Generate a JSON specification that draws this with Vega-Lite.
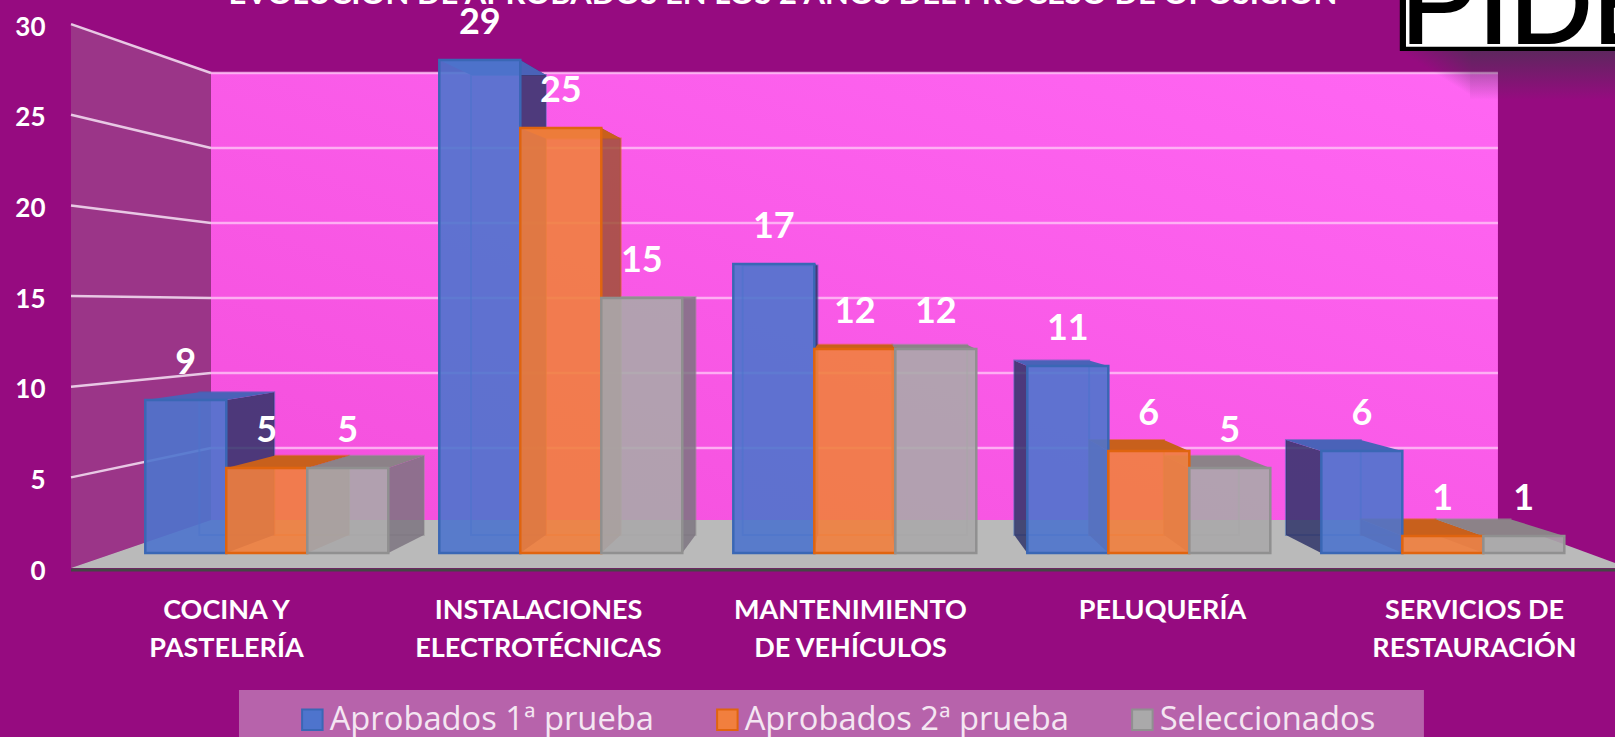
{"$schema":"https://vega.github.io/schema/vega-lite/v6.json","width":1615,"height":737,"autosize":"none","padding":0,"background":"#960b80","config":{"view":{"stroke":null}},
"datasets":{"bars":[
{"category":"COCINA Y PASTELERÍA","series":"Aprobados 1ª prueba","value":9},{"category":"COCINA Y PASTELERÍA","series":"Aprobados 2ª prueba","value":5},{"category":"COCINA Y PASTELERÍA","series":"Seleccionados","value":5},
{"category":"INSTALACIONES ELECTROTÉCNICAS","series":"Aprobados 1ª prueba","value":29},{"category":"INSTALACIONES ELECTROTÉCNICAS","series":"Aprobados 2ª prueba","value":25},{"category":"INSTALACIONES ELECTROTÉCNICAS","series":"Seleccionados","value":15},
{"category":"MANTENIMIENTO DE VEHÍCULOS","series":"Aprobados 1ª prueba","value":17},{"category":"MANTENIMIENTO DE VEHÍCULOS","series":"Aprobados 2ª prueba","value":12},{"category":"MANTENIMIENTO DE VEHÍCULOS","series":"Seleccionados","value":12},
{"category":"PELUQUERÍA","series":"Aprobados 1ª prueba","value":11},{"category":"PELUQUERÍA","series":"Aprobados 2ª prueba","value":6},{"category":"PELUQUERÍA","series":"Seleccionados","value":5},
{"category":"SERVICIOS DE RESTAURACIÓN","series":"Aprobados 1ª prueba","value":6},{"category":"SERVICIOS DE RESTAURACIÓN","series":"Aprobados 2ª prueba","value":1},{"category":"SERVICIOS DE RESTAURACIÓN","series":"Seleccionados","value":1}],
"ticks":[{"v":5},{"v":10},{"v":15},{"v":20},{"v":25},{"v":30}]},
"resolve":{"scale":{"x":"independent","y":"independent","fill":"independent","stroke":"independent"}},
"layer":[
{"resolve":{"scale":{"fill":"independent","stroke":"independent"}},
"layer":[
{"data":{"values":[{}]},"mark":{"type":"rect","fill":{"gradient":"linear","x1":0,"y1":1,"x2":1,"y2":0,"stops":[{"offset":0,"color":"#f44fdc"},{"offset":1,"color":"#ff66f3"}]}},"encoding":{"x":{"datum":-0.1898,"type":"quantitative","scale":{"domain":[-0.9075,4.586],"range":[0,1615],"nice":false,"zero":false},"axis":null},"x2":{"datum":4.1878},"y":{"datum":28.235,"type":"quantitative","scale":{"domain":[-10.82,32.53],"range":[737,0],"nice":false,"zero":false},"axis":null},"y2":{"datum":1.941}}},
{"data":{"values":[{"x":-0.666,"top":31.12,"bottom":-0.882},{"x":-0.1898,"top":28.235,"bottom":1.941}]},"mark":{"type":"area","orient":"vertical","fill":"#9b3588"},"encoding":{"x":{"field":"x","type":"quantitative"},"y":{"field":"top","type":"quantitative"},"y2":{"field":"bottom"}}},
{"data":{"values":[{"y":1.941,"xl":-0.1898,"xr":4.1878},{"y":-0.882,"xl":-0.666,"xr":4.634}]},"mark":{"type":"area","orient":"horizontal","fill":"#bababa"},"encoding":{"y":{"field":"y","type":"quantitative"},"x":{"field":"xl","type":"quantitative"},"x2":{"field":"xr"}}},
{"data":{"values":[{}]},"mark":{"type":"rule","stroke":"#454545","strokeWidth":3},"encoding":{"x":{"datum":-0.666,"type":"quantitative"},"x2":{"datum":4.586},"y":{"datum":-1.0,"type":"quantitative"}}},
{"data":{"name":"ticks"},"transform":[{"calculate":"1.765+0.8824*datum.v","as":"yb"}],"mark":{"type":"rule","stroke":"#ffc4f6","strokeWidth":2.5,"opacity":0.8},"encoding":{"x":{"datum":-0.1898,"type":"quantitative"},"x2":{"datum":4.1878},"y":{"field":"yb","type":"quantitative"}}},
{"data":{"name":"ticks"},"transform":[{"calculate":"1.765+0.8824*datum.v","as":"yb"},{"calculate":"-0.882+1.0665*datum.v","as":"yl"}],"mark":{"type":"rule","stroke":"#e8c8e4","strokeWidth":2.5},"encoding":{"x":{"datum":-0.666,"type":"quantitative"},"x2":{"datum":-0.1898},"y":{"field":"yl","type":"quantitative"},"y2":{"field":"yb"}}},
{"data":{"values":[{}]},"mark":{"type":"rect","fill":{"gradient":"linear","x1":0,"y1":0,"x2":0,"y2":1,"stops":[{"offset":0,"color":"rgba(70,50,80,0.7)"},{"offset":1,"color":"rgba(70,50,80,0)"}]}},"encoding":{"x":{"datum":4.093,"type":"quantitative"},"x2":{"datum":4.586},"y":{"datum":29.53,"type":"quantitative"},"y2":{"datum":26.65}}},
{"data":{"values":[{}]},"mark":{"type":"rect","fill":{"gradient":"linear","x1":1,"y1":0,"x2":0.2,"y2":0.9,"stops":[{"offset":0,"color":"rgba(70,50,80,0.7)"},{"offset":0.56,"color":"rgba(70,50,80,0)"},{"offset":1,"color":"rgba(70,50,80,0)"}]}},"encoding":{"x":{"datum":3.855,"type":"quantitative"},"x2":{"datum":4.093},"y":{"datum":29.53,"type":"quantitative"},"y2":{"datum":26.65}}},
{"data":{"values":[{}]},"mark":{"type":"rect","fill":"#b763ab"},"encoding":{"x":{"datum":-0.0946,"type":"quantitative"},"x2":{"datum":3.936},"y":{"datum":-8.06,"type":"quantitative"},"y2":{"datum":-10.82}}},
{"data":{"name":"bars"},"transform":[
{"calculate":"indexof(['COCINA Y PASTELERÍA','INSTALACIONES ELECTROTÉCNICAS','MANTENIMIENTO DE VEHÍCULOS','PELUQUERÍA','SERVICIOS DE RESTAURACIÓN'],datum.category)","as":"k"},
{"calculate":"indexof(['Aprobados 1ª prueba','Aprobados 2ª prueba','Seleccionados'],datum.series)","as":"s"},
{"calculate":"datum.k+(datum.s-1)*0.2755-0.1378","as":"x0"},{"calculate":"datum.x0+0.2755","as":"x1"},
{"calculate":"2.007+0.924*(datum.x0-2.007)","as":"bx0"},{"calculate":"2.007+0.924*(datum.x1-2.007)","as":"bx1"},
{"calculate":"15.8+0.933*(datum.value-15.8)","as":"by"},{"calculate":"1.06","as":"bb"}],
"mark":{"type":"rect","fillOpacity":0,"strokeWidth":2,"strokeOpacity":0.55},
"encoding":{"x":{"field":"bx0","type":"quantitative"},"x2":{"field":"bx1"},"y":{"field":"by","type":"quantitative"},"y2":{"field":"bb"},
"stroke":{"field":"series","type":"nominal","legend":null,"scale":{"domain":["Aprobados 1ª prueba","Aprobados 2ª prueba","Seleccionados"],"range":["#3a67b5","#e0640f","#909090"]}}}},
{"data":{"name":"bars"},"transform":[
{"calculate":"indexof(['COCINA Y PASTELERÍA','INSTALACIONES ELECTROTÉCNICAS','MANTENIMIENTO DE VEHÍCULOS','PELUQUERÍA','SERVICIOS DE RESTAURACIÓN'],datum.category)","as":"k"},
{"calculate":"indexof(['Aprobados 1ª prueba','Aprobados 2ª prueba','Seleccionados'],datum.series)","as":"s"},
{"calculate":"datum.k+(datum.s-1)*0.2755-0.1378","as":"x0"},{"calculate":"datum.x0+0.2755","as":"x1"},
{"calculate":"datum.x1<2.007?datum.x1:datum.x0","as":"sx"},{"calculate":"2.007+0.924*(datum.sx-2.007)","as":"bx"},
{"calculate":"15.8+0.933*(datum.value-15.8)","as":"by"},{"calculate":"datum.category+datum.series","as":"id"},
{"fold":["sx","bx"],"as":["edge","px"]},
{"calculate":"datum.edge=='sx'?datum.value:datum.by","as":"yt"},{"calculate":"datum.edge=='sx'?0:1.06","as":"yb"}],
"mark":{"type":"area","orient":"vertical","fillOpacity":0.85},
"encoding":{"x":{"field":"px","type":"quantitative"},"y":{"field":"yt","type":"quantitative"},"y2":{"field":"yb"},"detail":{"field":"id"},
"fill":{"field":"series","type":"nominal","legend":null,"scale":{"domain":["Aprobados 1ª prueba","Aprobados 2ª prueba","Seleccionados"],"range":["#2f3468","#a05035","#7d7480"]}}}},
{"data":{"name":"bars"},"transform":[
{"calculate":"indexof(['COCINA Y PASTELERÍA','INSTALACIONES ELECTROTÉCNICAS','MANTENIMIENTO DE VEHÍCULOS','PELUQUERÍA','SERVICIOS DE RESTAURACIÓN'],datum.category)","as":"k"},
{"calculate":"indexof(['Aprobados 1ª prueba','Aprobados 2ª prueba','Seleccionados'],datum.series)","as":"s"},
{"calculate":"datum.k+(datum.s-1)*0.2755-0.1378","as":"x0"},{"calculate":"datum.x0+0.2755","as":"x1"},
{"calculate":"2.007+0.924*(datum.x0-2.007)","as":"bx0"},{"calculate":"2.007+0.924*(datum.x1-2.007)","as":"bx1"},
{"calculate":"15.8+0.933*(datum.value-15.8)","as":"by"},{"calculate":"datum.category+datum.series","as":"id"},
{"calculate":"datum.value","as":"fy"},
{"fold":["fy","by"],"as":["edge","yy"]},
{"calculate":"datum.edge=='fy'?datum.x0:datum.bx0","as":"xa"},{"calculate":"datum.edge=='fy'?datum.x1:datum.bx1","as":"xb"}],
"mark":{"type":"area","orient":"horizontal"},
"encoding":{"y":{"field":"yy","type":"quantitative"},"x":{"field":"xa","type":"quantitative"},"x2":{"field":"xb"},"detail":{"field":"id"},
"fill":{"field":"series","type":"nominal","legend":null,"scale":{"domain":["Aprobados 1ª prueba","Aprobados 2ª prueba","Seleccionados"],"range":["#4a62b8","#c8601c","#8c8288"]}}}},
{"data":{"values":[{}]},"mark":{"type":"rect","fill":"#000000"},"encoding":{"x":{"datum":3.854,"type":"quantitative"},"x2":{"datum":4.586},"y":{"datum":32.53,"type":"quantitative"},"y2":{"datum":29.53}}},
{"data":{"values":[{}]},"mark":{"type":"rect","fill":"#ffffff"},"encoding":{"x":{"datum":3.875,"type":"quantitative"},"x2":{"datum":4.586},"y":{"datum":32.53,"type":"quantitative"},"y2":{"datum":29.78}}},
{"data":{"values":[{}]},"mark":{"type":"text","text":"PIDE","font":"Liberation Sans","fontSize":115,"align":"left","baseline":"alphabetic","fill":"#000000","stroke":"#000000","strokeWidth":2},"encoding":{"x":{"datum":3.858,"type":"quantitative"},"y":{"datum":30.0,"type":"quantitative"}}},
{"data":{"values":[{}]},"mark":{"type":"text","text":"EVOLUCIÓN DE APROBADOS EN LOS 2 AÑOS DEL PROCESO DE OPOSICIÓN","font":"Lato","fontWeight":"bold","fontSize":31,"align":"center","baseline":"alphabetic","fill":"#ffffff"},"encoding":{"x":{"datum":1.756,"type":"quantitative"},"y":{"datum":32.29,"type":"quantitative"}}}
]},
{"data":{"name":"bars"},"layer":[
{"mark":{"type":"bar","fillOpacity":0.9,"strokeWidth":2.5},
"encoding":{"x":{"field":"category","type":"nominal","sort":null,"axis":null,"scale":{"range":[119.8,1589.8],"paddingInner":0.1735,"paddingOuter":0.0867}},"xOffset":{"field":"series","type":"nominal","sort":null,"scale":{"paddingInner":0,"paddingOuter":0}},
"y":{"field":"value","type":"quantitative","axis":null,"scale":{"domain":[0,30],"range":[553,43],"nice":false}},
"fill":{"field":"series","type":"nominal","scale":{"domain":["Aprobados 1ª prueba","Aprobados 2ª prueba","Seleccionados"],"range":["#4e74cd","#f17f3e","#aaa9aa"]},"legend":{"title":null,"orient":"none","legendX":296,"legendY":703,"direction":"horizontal","columns":3,"symbolType":"square","symbolSize":420,"symbolStrokeWidth":2,"labelFont":"Open Sans","labelFontSize":32.7,"labelColor":"#f4e6f2","labelLimit":500,"labelOffset":1,"columnPadding":57}},
"stroke":{"field":"series","type":"nominal","scale":{"domain":["Aprobados 1ª prueba","Aprobados 2ª prueba","Seleccionados"],"range":["#3a67b5","#e0640f","#909090"]},"legend":{"title":null,"orient":"none","legendX":296,"legendY":703,"direction":"horizontal","columns":3,"symbolType":"square","symbolSize":420,"symbolStrokeWidth":2,"labelFont":"Open Sans","labelFontSize":32.7,"labelColor":"#f4e6f2","labelLimit":500,"labelOffset":1,"columnPadding":57}}}},
{"mark":{"type":"text","font":"Lato","fontWeight":"bold","fontSize":36,"fill":"#ffffff","baseline":"middle","dy":-37},
"encoding":{"x":{"field":"category","type":"nominal","sort":null},"xOffset":{"field":"series","type":"nominal","sort":null},"y":{"field":"value","type":"quantitative"},"text":{"field":"value","type":"quantitative"}}}
]},
{"data":{"name":"bars"},"mark":{"type":"point","opacity":0},
"encoding":{"x":{"field":"category","type":"nominal","sort":null,"title":null,"scale":{"range":[70,1630]},"axis":{"orient":"bottom","offset":-169,"domain":false,"ticks":false,"grid":false,"labelAngle":0,"labelAlign":"center","labelBaseline":"top","labelPadding":29,"labelFont":"Lato","labelFontWeight":"bold","labelFontSize":27,"labelColor":"#ffffff","labelLineHeight":38,"labelLimit":500,"labelOverlap":false,"labelBound":false,
"labelExpr":"datum.label=='COCINA Y PASTELERÍA'?['COCINA Y','PASTELERÍA']:datum.label=='INSTALACIONES ELECTROTÉCNICAS'?['INSTALACIONES','ELECTROTÉCNICAS']:datum.label=='MANTENIMIENTO DE VEHÍCULOS'?['MANTENIMIENTO','DE VEHÍCULOS']:datum.label=='SERVICIOS DE RESTAURACIÓN'?['SERVICIOS DE','RESTAURACIÓN']:datum.label"}},
"y":{"field":"value","type":"quantitative","title":null,"scale":{"domain":[0,30],"range":[571,27],"nice":false},"axis":{"orient":"left","offset":-45,"values":[0,5,10,15,20,25,30],"domain":false,"ticks":false,"grid":false,"labelPadding":0,"labelFont":"Lato","labelFontWeight":"bold","labelFontSize":26,"labelColor":"#ffffff"}}}}
]}
